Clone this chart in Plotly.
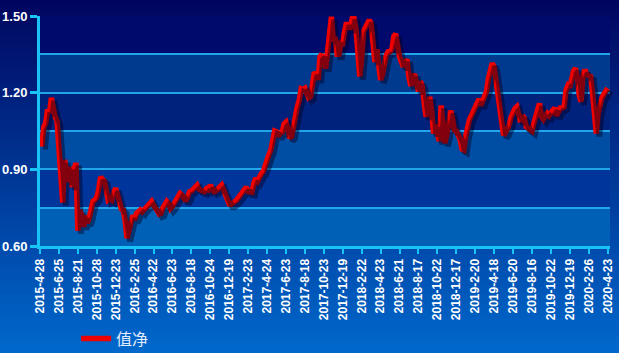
import plotly.graph_objects as go

# ---- data (one sample every 4 trading days) ----
tick_labels = ["2015-4-28", "2015-6-25", "2015-8-21", "2015-10-28", "2015-12-23",
               "2016-2-25", "2016-4-22", "2016-6-23", "2016-8-18", "2016-10-24",
               "2016-12-19", "2017-2-23", "2017-4-24", "2017-6-23", "2017-8-18",
               "2017-10-23", "2017-12-19", "2018-2-22", "2018-4-23", "2018-6-21",
               "2018-8-17", "2018-10-22", "2018-12-17", "2019-2-20", "2019-4-18",
               "2019-6-20", "2019-8-16", "2019-10-22", "2019-12-19", "2020-2-26",
               "2020-4-23"]
nav = [
    1.03, 0.99, 1.066, 1.08, 1.135, 1.12, 1.18, 1.13, 1.105, 1.09,
    0.975, 0.88, 0.77, 0.937, 0.87, 0.85, 0.91, 0.83, 0.90, 0.925,
    0.66, 0.74, 0.72, 0.675, 0.72, 0.69, 0.71, 0.76, 0.775, 0.78,
    0.79, 0.82, 0.87, 0.86, 0.855, 0.82, 0.78, 0.785, 0.78, 0.81,
    0.826, 0.80, 0.765, 0.745, 0.74, 0.70, 0.63, 0.66, 0.69, 0.72,
    0.702, 0.728, 0.734, 0.741, 0.734, 0.745, 0.754, 0.758, 0.765, 0.774,
    0.76, 0.752, 0.738, 0.725, 0.728, 0.75, 0.766, 0.774, 0.765, 0.747,
    0.755, 0.77, 0.788, 0.80, 0.806, 0.80, 0.79, 0.776, 0.79, 0.812,
    0.815, 0.825, 0.832, 0.838, 0.822, 0.816, 0.815, 0.813, 0.824, 0.82,
    0.839, 0.824, 0.813, 0.816, 0.823, 0.83, 0.838, 0.819, 0.798, 0.776,
    0.764, 0.763, 0.772, 0.774, 0.78, 0.79, 0.80, 0.81, 0.817, 0.83,
    0.813, 0.812, 0.81, 0.845, 0.865, 0.854, 0.872, 0.883, 0.891, 0.92,
    0.942, 0.958, 0.975, 1.01, 1.05, 1.047, 1.03, 1.043, 1.045, 1.078,
    1.085, 1.06, 1.022, 1.03, 1.08, 1.125, 1.145, 1.17, 1.215, 1.212,
    1.217, 1.195, 1.18, 1.185, 1.23, 1.28, 1.27, 1.25, 1.341, 1.35,
    1.32, 1.295, 1.36, 1.435, 1.497, 1.41, 1.41, 1.35, 1.35, 1.395,
    1.393, 1.44, 1.475, 1.455, 1.455, 1.49, 1.49, 1.45, 1.36, 1.263,
    1.33, 1.44, 1.455, 1.47, 1.484, 1.471, 1.36, 1.32, 1.37, 1.32,
    1.25, 1.27, 1.328, 1.347, 1.36, 1.36, 1.37, 1.42, 1.43, 1.375,
    1.341, 1.32, 1.302, 1.32, 1.33, 1.26, 1.226, 1.263, 1.272, 1.235,
    1.205, 1.245, 1.225, 1.165, 1.106, 1.132, 1.184, 1.13, 1.04, 1.075,
    1.04, 1.01, 1.15, 1.07, 1.002, 1.035, 1.075, 1.13, 1.10, 1.054,
    1.05, 1.033, 1.018, 0.98, 0.976, 1.03, 1.072, 1.095, 1.11, 1.128,
    1.138, 1.165, 1.175, 1.15, 1.17, 1.185, 1.205, 1.255, 1.295, 1.315,
    1.30, 1.25, 1.19, 1.15, 1.09, 1.034, 1.042, 1.057, 1.075, 1.105,
    1.127, 1.138, 1.145, 1.105, 1.085, 1.11, 1.10, 1.067, 1.06, 1.05,
    1.05, 1.08, 1.112, 1.14, 1.158, 1.105, 1.096, 1.11, 1.119, 1.11,
    1.118, 1.132, 1.14, 1.11, 1.123, 1.14, 1.14, 1.145, 1.21, 1.228,
    1.22, 1.255, 1.285, 1.295, 1.26, 1.19, 1.165, 1.27, 1.29, 1.27,
    1.263, 1.263, 1.20, 1.09, 1.04, 1.12, 1.165, 1.18, 1.194, 1.21,
    1.217,
]
days_per_sample = 4
days_per_tick = 40
series_name = "值净"
y_ticks = [0.60, 0.90, 1.20, 1.50]
band_edges = [0.60, 0.75, 0.90, 1.05, 1.20, 1.35, 1.50]
band_colors = ["#0060b6", "#00359c", "#004ea4", "#00217c", "#003a8e", "#000a6c"]

x_vals = [i * days_per_sample for i in range(len(nav))]
tick_vals = [i * days_per_tick for i in range(len(tick_labels))]

W, H = 619, 353
ML, MR, MT, MB = 40, 6, 16, 104
pw = W - ML - MR
ph = H - MT - MB
sh = 3  # shadow offset px

fig = go.Figure()

# shadow
fig.add_trace(go.Scatter(x=x_vals, y=nav, mode="lines", xaxis="x2", yaxis="y2",
                         line=dict(color="rgba(0,0,30,0.45)", width=6),
                         showlegend=False, hoverinfo="skip"))
# main line
fig.add_trace(go.Scatter(x=x_vals, y=nav, mode="lines", name=series_name,
                         line=dict(color="#ee0000", width=5.5)))

# background gradient stripes
shapes = []
N = 90
c0 = (0, 6, 96)
c1 = (0, 104, 204)
for i in range(N):
    t = i / (N - 1)
    c = tuple(int(round(c0[k] + (c1[k] - c0[k]) * t)) for k in range(3))
    shapes.append(dict(type="rect", xref="paper", yref="paper", layer="below",
                       x0=-ML / pw - 0.01, x1=1 + MR / pw + 0.01,
                       y0=1 + MT / ph - (i + 1) * (H / ph) / N - 0.002,
                       y1=1 + MT / ph - i * (H / ph) / N + 0.002,
                       fillcolor="rgb(%d,%d,%d)" % c, line=dict(width=0)))
# plot-area bands
x_end = (len(nav) - 1) * days_per_sample + 5
for k in range(len(band_colors)):
    shapes.append(dict(type="rect", xref="x", yref="y", layer="below",
                       x0=0, x1=x_end, y0=band_edges[k], y1=band_edges[k + 1],
                       fillcolor=band_colors[k], line=dict(width=0)))

axis_col = "#19c3f5"
grid_col = "#22a6ea"
fdom_x = (pw - sh) / pw
fdom_y = sh / ph

fig.update_layout(
    width=W, height=H,
    margin=dict(l=ML, r=MR, t=MT, b=MB, autoexpand=False),
    paper_bgcolor="#0050b8",
    plot_bgcolor="rgba(0,0,0,0)",
    shapes=shapes,
    xaxis=dict(domain=[0, fdom_x], range=[0, x_end], anchor="y",
               tickmode="array", tickvals=tick_vals,
               ticktext=["<b>%s</b>" % t for t in tick_labels],
               tickangle=-90, showgrid=False, zeroline=False,
               showline=True, linecolor=axis_col, linewidth=3,
               ticks="outside", ticklen=5, tickwidth=2, tickcolor=axis_col,
               tickfont=dict(family="Liberation Sans, Arial", size=12, color="white")),
    yaxis=dict(domain=[fdom_y, 1], range=[0.60, 1.50], anchor="x",
               tickmode="array", tickvals=y_ticks,
               ticktext=["<b>%.2f</b>" % v for v in y_ticks],
               showgrid=True, gridcolor=grid_col, gridwidth=1.5,
               minor=dict(dtick=0.15, tick0=0.60, showgrid=True,
                          gridcolor=grid_col, gridwidth=1.5),
               zeroline=False, showline=True, linecolor=axis_col, linewidth=3,
               ticks="outside", ticklen=7, tickwidth=3, tickcolor=axis_col,
               tickfont=dict(family="Liberation Sans, Arial", size=13, color="white")),
    xaxis2=dict(domain=[sh / pw, 1], range=[0, x_end], anchor="y2",
                visible=False, showgrid=False),
    yaxis2=dict(domain=[0, 1 - fdom_y], range=[0.60, 1.50], anchor="x2",
                visible=False, showgrid=False),
    showlegend=True,
    legend=dict(x=0.063, y=-0.385, xanchor="left", yanchor="middle",
                orientation="h", bgcolor="rgba(0,0,0,0)",
                font=dict(family="Noto Sans CJK SC", size=16, color="#e6ecff")),
)

fig.write_html("out.html")
